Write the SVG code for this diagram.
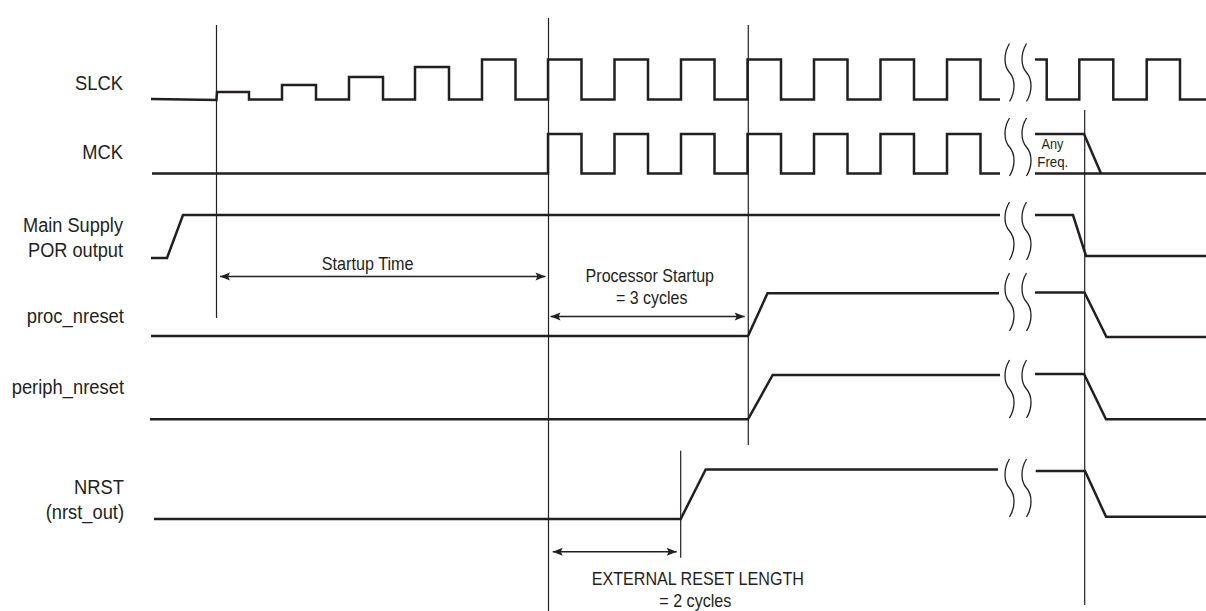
<svg xmlns="http://www.w3.org/2000/svg" width="1206" height="611" viewBox="0 0 1206 611">
<style>
.sig{fill:none;stroke:#231f20;stroke-width:2.5;stroke-linejoin:miter;stroke-linecap:butt}
.vl{fill:none;stroke:#231f20;stroke-width:1.2}
.arr{fill:none;stroke:#231f20;stroke-width:1.5;marker-start:url(#ah);marker-end:url(#ah)}
.brk{fill:none;stroke:#231f20;stroke-width:1.3}
.lbl{font-family:"Liberation Sans",Arial,sans-serif;font-size:20px;fill:#231f20;text-anchor:end}
.ann{font-family:"Liberation Sans",Arial,sans-serif;font-size:18.5px;fill:#231f20;text-anchor:middle}
.sm{font-family:"Liberation Sans",Arial,sans-serif;font-size:14.5px;fill:#231f20;text-anchor:middle}
</style>
<defs>
<marker id="ah" viewBox="0 -5 12 10" refX="11" refY="0" markerWidth="12" markerHeight="10" markerUnits="userSpaceOnUse" orient="auto-start-reverse">
<path d="M11,0 L1,-4 L3,0 L1,4 Z" fill="#231f20"/>
</marker>
<path id="wv" class="brk" d="M0,0 C-6,10 -6,22 0,29 C6,36 6,48 0,58"/>
<g id="brkpair"><use href="#wv" x="1009.5"/><use href="#wv" x="1026.5"/></g>
</defs>
<rect width="1206" height="611" fill="#fff"/>

<g id="labels">
<text class="lbl" x="123" y="90" textLength="48" lengthAdjust="spacingAndGlyphs">SLCK</text>
<text class="lbl" x="123" y="159.3" textLength="40.7" lengthAdjust="spacingAndGlyphs">MCK</text>
<text class="lbl" x="123" y="231.7" textLength="100" lengthAdjust="spacingAndGlyphs">Main Supply</text>
<text class="lbl" x="123" y="256.7" textLength="95" lengthAdjust="spacingAndGlyphs">POR output</text>
<text class="lbl" x="124" y="322.7" textLength="97.3" lengthAdjust="spacingAndGlyphs">proc_nreset</text>
<text class="lbl" x="124" y="394" textLength="112.3" lengthAdjust="spacingAndGlyphs">periph_nreset</text>
<text class="lbl" x="124" y="494" textLength="50" lengthAdjust="spacingAndGlyphs">NRST</text>
<text class="lbl" x="124" y="519.3" textLength="78.3" lengthAdjust="spacingAndGlyphs">(nrst_out)</text>
</g>

<g id="slck">
<path class="sig" d="M151,99 L216.5,100 L217,92 L249,92 L249,99.5 L282,99.5 L282,85 L316,85 L316,99.5 L349,99.5 L349,77 L383,77 L383,99.5 L415,99.5 L415,67 L449,67 L449,99.5 L482,99.5 L482,59.5 L515.5,59.5 L515.5,99.5 L548,99.5 L548,59.5 L581.5,59.5 L581.5,99.5 L614.5,99.5 L614.5,59.5 L648,59.5 L648,99.5 L681,99.5 L681,59.5 L714.5,59.5 L714.5,99.5 L747.5,99.5 L747.5,59.5 L781,59.5 L781,99.5 L814,99.5 L814,59.5 L847.5,59.5 L847.5,99.5 L880.5,99.5 L880.5,59.5 L914,59.5 L914,99.5 L947,99.5 L947,59.5 L980.5,59.5 L980.5,99.5 L1000,99.5"/>
<path class="sig" d="M1035,59.5 L1046.7,59.5 L1046.7,99.5 L1079.3,99.5 L1079.3,59.5 L1113.3,59.5 L1113.3,99.5 L1146.7,99.5 L1146.7,59.5 L1180,59.5 L1180,99.5 L1206,99.5"/>
<use href="#brkpair" y="43.5"/>
</g>

<g id="mck">
<path class="sig" d="M152,173.5 L548,173.5 L548,134 L581.5,134 L581.5,173.5 L614.5,173.5 L614.5,134 L648,134 L648,173.5 L681,173.5 L681,134 L714.5,134 L714.5,173.5 L747.5,173.5 L747.5,134 L781,134 L781,173.5 L814,173.5 L814,134 L847.5,134 L847.5,173.5 L880.5,173.5 L880.5,134 L914,134 L914,173.5 L947,173.5 L947,134 L980.5,134 L980.5,173.5 L1000,173.5"/>
<path class="sig" d="M1035,134 L1084,134 L1101,173.5"/>
<path class="sig" d="M1035,173.5 L1206,173.5"/>
<use href="#brkpair" y="118"/>
<text class="sm" x="1052.5" y="149.3" textLength="22" lengthAdjust="spacingAndGlyphs">Any</text>
<text class="sm" x="1052.8" y="166.7" textLength="31" lengthAdjust="spacingAndGlyphs">Freq.</text>
</g>

<g id="main-supply">
<path class="sig" d="M151,258 L167,258 L183,215 L1000,215"/>
<path class="sig" d="M1035,215 L1073,215 L1086,256 L1206,256"/>
<use href="#brkpair" y="202"/>
</g>

<g id="proc-nreset">
<path class="sig" d="M151,336 L748,336 L767.5,293.3 L999,293.3"/>
<path class="sig" d="M1035,292.5 L1084.5,292.5 L1106.5,337 L1206,337"/>
<use href="#brkpair" y="273"/>
</g>

<g id="periph-nreset">
<path class="sig" d="M150,419.3 L748,419.3 L772.7,375 L1000,375"/>
<path class="sig" d="M1035,374 L1084,374 L1106,419.3 L1206,419.3"/>
<use href="#brkpair" y="360"/>
</g>

<g id="nrst">
<path class="sig" d="M154,519 L680.7,519 L705.7,469.5 L998,469.5"/>
<path class="sig" d="M1035.7,471 L1085,471 L1106,516.7 L1206,516.7"/>
<use href="#brkpair" y="459"/>
</g>

<g id="connectors">
<line class="vl" x1="216.5" y1="25" x2="216.5" y2="318"/>
<line class="vl" x1="548.5" y1="18" x2="548.5" y2="611"/>
<line class="vl" x1="748.3" y1="25" x2="748.3" y2="445"/>
<line class="vl" x1="680.7" y1="450.7" x2="680.7" y2="557.7"/>
<line class="vl" x1="1084.7" y1="110" x2="1084.7" y2="605"/>
<line class="arr" x1="220" y1="276.5" x2="545.5" y2="276.5"/>
<line class="arr" x1="550.5" y1="316.5" x2="744.7" y2="316.5"/>
<line class="arr" x1="552.7" y1="551.7" x2="676.7" y2="551.7"/>
</g>

<g id="annotations">
<text class="ann" x="367.7" y="270.3" textLength="91.8" lengthAdjust="spacingAndGlyphs">Startup Time</text>
<text class="ann" x="649.8" y="282" textLength="128.4" lengthAdjust="spacingAndGlyphs">Processor Startup</text>
<text class="ann" x="651.7" y="303.8" textLength="71.4" lengthAdjust="spacingAndGlyphs">= 3 cycles</text>
<text class="ann" x="697.8" y="585" textLength="212.3" lengthAdjust="spacingAndGlyphs">EXTERNAL RESET LENGTH</text>
<text class="ann" x="695.3" y="606.7" textLength="72" lengthAdjust="spacingAndGlyphs">= 2 cycles</text>
</g>
</svg>
